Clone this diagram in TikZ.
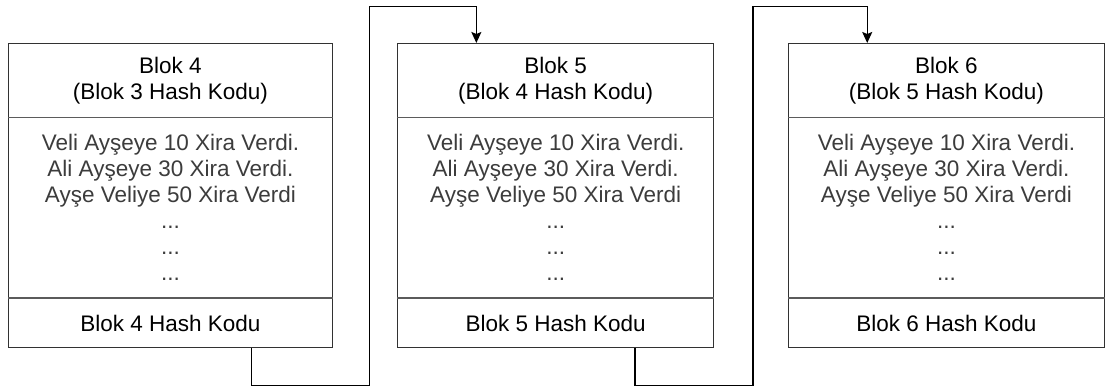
\documentclass[tikz,border=0pt]{standalone}
\usepackage{fontspec}
\setmainfont{Liberation Sans}
\usetikzlibrary{calc,arrows.meta}

\definecolor{edge}{RGB}{50,50,50}
\definecolor{bodytext}{RGB}{60,60,60}

\tikzset{
  block/.style={draw=edge, line width=1.4pt, fill=white, rectangle,
    minimum height=304pt, inner sep=0pt},
  sepline/.style={draw=edge!80, line width=1.1pt},
  txt/.style={align=center, font=\fontsize{22.5pt}{26pt}\selectfont, inner sep=0pt},
  lowtxt/.style={txt, text=bodytext},
  link/.style={draw=black, line width=1.4pt,
    -{Stealth[length=11pt, width=10pt, inset=2pt]}}
}

\begin{document}
\begin{tikzpicture}[x=1pt, y=-1pt]
\useasboundingbox (0,0) rectangle (1105,387);

% three chained blocks: header, transactions, own hash
\node[block, minimum width=323.5pt, anchor=north west] (b4) at (8,43) {};
\node[block, minimum width=316pt,   anchor=north west] (b5) at (397,43) {};
\node[block, minimum width=315.5pt, anchor=north west] (b6) at (788,43) {};

\foreach \b/\n/\p in {b4/4/3, b5/5/4, b6/6/5}{
  \draw[sepline] ($(\b.north west)+(0,74.5)$) -- ($(\b.north east)+(0,74.5)$);
  \draw[sepline] ($(\b.north west)+(0,255)$) -- ($(\b.north east)+(0,255)$);
  \node[txt] (\b h) at ($(\b.north)+(0,37.5)$) {Blok \n\\(Blok \p\ Hash Kodu)};
  \node[lowtxt] (\b t) at ($(\b.north)+(0,164.5)$)
    {Veli Ayşeye 10 Xira Verdi.\\Ali Ayşeye 30 Xira Verdi.\\Ayşe Veliye 50 Xira Verdi\\...\\...\\...};
  \node[txt] (\b f) at ($(\b.south)+(0,-24.5)$) {Blok \n\ Hash Kodu};
}

% hash links: bottom of one block to the top of the next
\coordinate (s4) at ($(b4.south west)!0.75!(b4.south east)$);
\coordinate (s5) at ($(b5.south west)!0.75!(b5.south east)$);
\coordinate (t5) at ($(b5.north west)!0.25!(b5.north east)$);
\coordinate (t6) at ($(b6.north west)!0.25!(b6.north east)$);

\draw[link] (s4) -- ++(0,37) -| ++(118,-379) -| (t5);
\draw[link] (s5) -- ++(0,37) -| ++(118,-379) -| (t6);
\end{tikzpicture}
\end{document}
